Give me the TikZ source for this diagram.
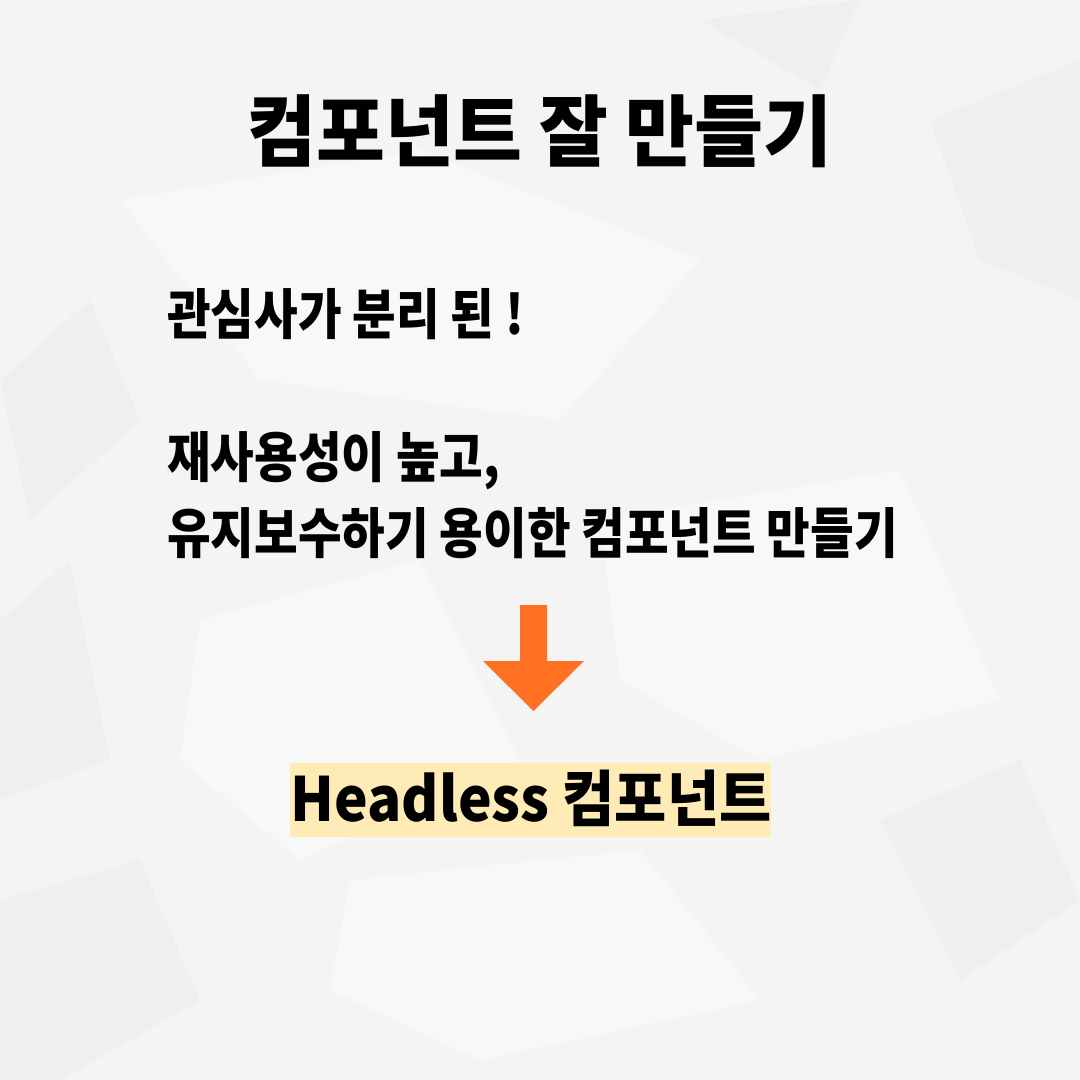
\documentclass[tikz,border=0pt]{standalone}
\usepackage{fontspec}
\newfontfamily\titlefont[FakeStretch=0.96]{Noto Sans CJK KR}
\newfontfamily\bodyfont[FakeStretch=0.87]{Noto Sans CJK KR}
\newfontfamily\hlfont[FakeStretch=0.93]{Noto Sans CJK KR}
\definecolor{paper}{HTML}{F5F4F4}
\definecolor{paperlight}{HTML}{FAF9F9}
\definecolor{paperdark}{HTML}{EEEDED}
\definecolor{arroworange}{HTML}{FF7022}
\definecolor{hlyellow}{HTML}{FFEBB6}
\tikzset{
  titletext/.style={anchor=base, inner sep=0pt, font=\titlefont\bfseries\fontsize{78}{80}\selectfont},
  bodytext/.style={anchor=base west, inner sep=0pt, font=\bodyfont\bfseries\fontsize{54.5}{56}\selectfont},
  hltext/.style={anchor=base, inner sep=0pt, font=\hlfont\bfseries\fontsize{61}{63}\selectfont},
  hlbox/.style={fill=hlyellow, draw=none, inner sep=0pt},
  crease/.style={fill=paperdark, opacity=0.7},
  flat/.style={fill=paperlight, opacity=0.9}
}
\begin{document}
\begin{tikzpicture}[x=1pt,y=-1pt]
\useasboundingbox (0,0) rectangle (1080,1080);
% paper background
\fill[paper] (0,0) rectangle (1080,1080);
\fill[flat] (120,200) -- (420,150) -- (700,260) -- (560,420) -- (260,380) -- cycle;
\fill[flat] (600,520) -- (900,470) -- (1000,700) -- (760,760) -- (620,680) -- cycle;
\fill[flat] (200,620) -- (420,560) -- (520,760) -- (300,860) -- (180,760) -- cycle;
\fill[flat] (350,880) -- (640,850) -- (760,1000) -- (480,1060) -- (330,990) -- cycle;
\fill[crease] (0,380) -- (90,300) -- (140,420) -- (30,520) -- cycle;
\fill[crease] (930,120) -- (1080,60) -- (1080,300) -- (980,260) -- cycle;
\fill[crease] (880,820) -- (1020,760) -- (1080,900) -- (960,980) -- cycle;
\fill[crease] (0,900) -- (140,860) -- (200,1000) -- (60,1080) -- (0,1080) -- cycle;
\fill[crease] (0,620) -- (70,560) -- (110,760) -- (0,800) -- cycle;
\fill[crease] (700,20) -- (860,0) -- (820,90) -- cycle;

% title
\node[titletext] (title) at (540,160) {컴포넌트 잘 만들기};

% body
\node[bodytext] (line1) at (167,334) {관심사가 분리 된 !};
\node[bodytext] (line2) at (167,477) {재사용성이 높고,};
\node[bodytext] (line3) at (167,553) {유지보수하기 용이한 컴포넌트 만들기};

% arrow
\fill[arroworange] (520,605) -- (547,605) -- (547,661) -- (584,661) -- (533.5,711) -- (483,661) -- (520,661) -- cycle;

% highlighted result
\node[hlbox, minimum width=481pt, minimum height=74pt] (hl) at (530.5,800) {};
\node[hltext] (result) at (531,821) {Headless 컴포넌트};
\end{tikzpicture}
\end{document}
